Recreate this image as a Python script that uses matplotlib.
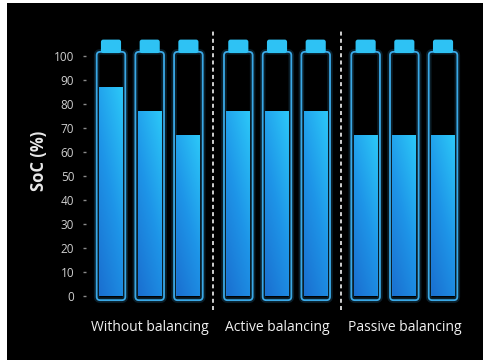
import numpy as np
import matplotlib.pyplot as plt
from matplotlib.patches import FancyBboxPatch, Rectangle
from matplotlib.colors import LinearSegmentedColormap

plt.rcParams['font.family'] = ['Open Sans', 'DejaVu Sans']

# data
groups = ['Without balancing', 'Active balancing', 'Passive balancing']
soc = [[87, 77, 67],
       [77, 77, 77],
       [67, 67, 67]]
yticks = list(range(0, 101, 10))

group_step = 3.29
pos = [g * group_step + i for g in range(3) for i in range(3)]
vals = [v for row in soc for v in row]
centers = [g * group_step + 1 for g in range(3)]
dividers = [g * group_step + 2 + (group_step - 2) / 2 for g in range(2)]

fig = plt.figure(figsize=(4.89, 3.6), dpi=100)
fig.patch.set_facecolor('white')
fig.patches.append(Rectangle((7 / 489, 0), 476 / 489, 357 / 360, transform=fig.transFigure,
                             facecolor='black', edgecolor='none', zorder=-10))

ax = fig.add_axes([86 / 489, 50 / 360, 384 / 489, 280 / 360])
ax.set_facecolor('black')

# pixel per data unit, for rounded corners
asp = 38.7 / 2.4

cmap = LinearSegmentedColormap.from_list('batt', ['#1a6fd0', '#1e95e8', '#2cc8f8'])
gx, gy = np.meshgrid(np.linspace(0, 1, 30), np.linspace(0, 1, 120))
grad = 0.35 * gx + 0.65 * gy

body_w = 0.74
fill_w = 0.62
cap_w = 0.52

bars = ax.bar(pos, vals, width=fill_w, bottom=0, color='#1e95e8', zorder=3)
for b, x, v in zip(bars, pos, vals):
    im = ax.imshow(grad, extent=[x - fill_w / 2, x + fill_w / 2, 0, v], origin='lower',
                   cmap=cmap, aspect='auto', zorder=4)
    im.set_clip_path(b)

    # glow + outline of the cell body
    for lw, a in [(4, 0.18), (1.3, 1.0)]:
        body = FancyBboxPatch((x - body_w / 2, -1.7), body_w, 103.4,
                              boxstyle='round,pad=0,rounding_size=0.09',
                              mutation_aspect=asp, facecolor='none',
                              edgecolor='#3aa8e6', linewidth=lw, alpha=a, zorder=5)
        ax.add_patch(body)
    # terminal cap
    cap = FancyBboxPatch((x - cap_w / 2, 101.2), cap_w, 5.6,
                         boxstyle='round,pad=0,rounding_size=0.06',
                         mutation_aspect=asp, facecolor='#2ec2f4',
                         edgecolor='none', zorder=5)
    ax.add_patch(cap)

ax.set_xlim(-0.646, 9.277)
ax.set_ylim(-5.8, 110.8)

for d in dividers:
    ax.axvline(d, color='#e0e0e0', linestyle=(0, (2.2, 1.8)), linewidth=1.3, zorder=2)

for s in ax.spines.values():
    s.set_visible(False)

ax.set_yticks(yticks)
ax.tick_params(axis='y', colors='#8a8a8a', labelcolor='#cfcfcf', length=2.5,
               width=1, pad=6, labelsize=8.5)
ax.set_xticks(centers)
ax.set_xticklabels(groups)
ax.tick_params(axis='x', length=0, pad=7, labelcolor='#f0f0f0', labelsize=10)

fig.text(39 / 489, 1 - 161 / 360, 'SoC (%)', rotation=90, ha='center', va='center',
         color='#e8e8e8', fontsize=12, fontweight='bold')

fig.savefig('out.png', dpi=100, facecolor=fig.get_facecolor())
